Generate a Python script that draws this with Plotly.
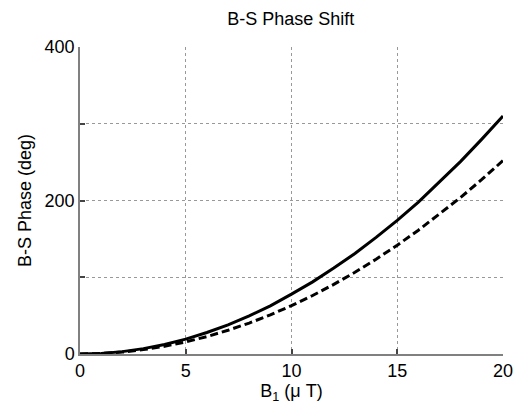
import plotly.graph_objects as go

b1 = [0, 1, 2, 3, 4, 5, 6, 7, 8, 9, 10, 11, 12, 13, 14, 15, 16, 17, 18, 19, 20]
phase_solid = [0, 0.8, 3.1, 7, 12.4, 19.4, 28, 38, 49.6, 62.8, 78, 94, 112, 131, 152, 174, 198, 224, 251, 280, 310]
phase_dashed = [0, 0.6, 2.5, 5.7, 10.1, 15.8, 22.7, 30.9, 40.3, 51, 63, 76.2, 90.7, 106.5, 123.5, 141.8, 161.3, 182.1, 204.1, 227.4, 252]

x_ticks = [0, 5, 10, 15, 20]
y_ticks = [0, 200, 400]
y_minor_ticks = [100, 300]

font = "Liberation Sans, Arial, Helvetica, sans-serif"

fig = go.Figure()
fig.add_trace(go.Scatter(x=b1, y=phase_solid, mode="lines",
                         line=dict(color="black", width=3), showlegend=False))
fig.add_trace(go.Scatter(x=b1, y=phase_dashed, mode="lines",
                         line=dict(color="black", width=3, dash="8px,4px"), showlegend=False))

fig.update_layout(
    width=517, height=415,
    margin=dict(l=80, r=14, t=47, b=61, autoexpand=False),
    paper_bgcolor="white", plot_bgcolor="white",
    font=dict(family=font, size=18, color="black"),
    title=dict(text="B-S Phase Shift", x=0.5625, xanchor="center", y=0.955, yanchor="middle",
               font=dict(size=18)),
)
grid = dict(showgrid=True, gridcolor="#999999", griddash="dot", gridwidth=1)
fig.update_xaxes(
    range=[0, 20], tickvals=x_ticks, ticktext=[str(v) for v in x_ticks],
    showline=True, linecolor="#808080", linewidth=1.5, mirror=False,
    ticks="inside", ticklen=5, tickcolor="#444444", tickwidth=1.5,
    zeroline=False, tickfont=dict(size=18), automargin=False,
    title=dict(text="B<sub>1</sub> (μ T)", font=dict(size=18), standoff=4),
    **grid,
)
fig.update_yaxes(
    range=[0, 400], tickvals=y_ticks, ticktext=[str(v) for v in y_ticks],
    showline=True, linecolor="#808080", linewidth=1.5, mirror=False,
    ticks="inside", ticklen=5, tickcolor="#444444", tickwidth=1.5,
    zeroline=False, tickfont=dict(size=18), automargin=False,
    minor=dict(tickvals=y_minor_ticks, ticks="inside", ticklen=5, tickcolor="#444444",
               tickwidth=1.5, showgrid=True, gridcolor="#999999", griddash="dot", gridwidth=1),
    title=dict(text="B-S Phase (deg)", font=dict(size=18), standoff=8),
    **grid,
)

fig.write_html("out.html")
